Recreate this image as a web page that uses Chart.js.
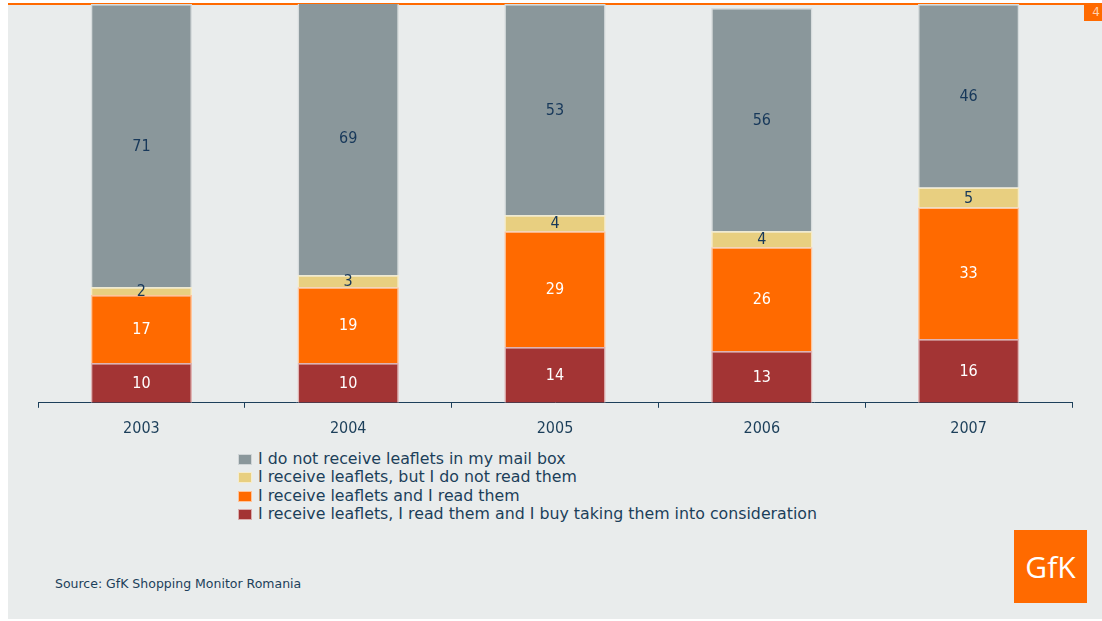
<!DOCTYPE html>
<html lang="en">
<head>
    <meta charset="UTF-8">
    <title>Leaflets - GfK Shopping Monitor Romania</title>
    <script src="https://cdn.jsdelivr.net/npm/chart.js"></script>
    <style>
        body { margin: 0; background: #fff; width: 1102px; height: 621px; overflow: hidden; position: relative; font-family: "DejaVu Sans", sans-serif; color: #1c3f5a; }
        #panel { position: absolute; left: 8px; top: 4px; width: 1094px; height: 615px; background: #e9ecec; }
        #topline { position: absolute; left: 8px; top: 3px; width: 1094px; height: 2px; background: #ff6a00; }
        #pageNo { position: absolute; left: 1084px; top: 4px; width: 18px; height: 17px; background: #ff6a00; color: #ffd2b0; font-size: 12px; text-align: right; line-height: 16px; padding-right: 2px; box-sizing: border-box; }
        #chartBox { position: absolute; left: 8px; top: 4px; width: 1094px; height: 445px; }
        #legend { position: absolute; left: 238px; top: 450px; font-size: 15.8px; line-height: 18.4px; }
        #legend div { white-space: nowrap; }
        #legend span.box { display: inline-block; width: 14px; height: 11px; margin-right: 6px; vertical-align: -1px; box-sizing: border-box; border: 1px solid rgba(255,255,255,0.6); }
        #source { position: absolute; left: 55px; top: 576px; font-size: 12.5px; }
        #logo { position: absolute; left: 1014px; top: 530px; width: 73px; height: 73px; background: #ff6a00; color: #fff; font-family: "Open Sans", sans-serif; font-size: 30px; text-align: center; line-height: 73px; }
    </style>
</head>
<body>
    <div id="panel"></div>
    <div id="topline"></div>
    <div id="pageNo">4</div>
    <div id="chartBox"><canvas id="leafletChart"></canvas></div>
    <div id="legend"></div>
    <div id="source">Source: GfK Shopping Monitor Romania</div>
    <div id="logo">GfK</div>

    <script>
        const years = ['2003', '2004', '2005', '2006', '2007'];
        // stacked from bottom to top
        const buyValues = [10, 10, 14, 13, 16];
        const readValues = [17, 19, 29, 26, 33];
        const notReadValues = [2, 3, 4, 4, 5];
        const noLeafletValues = [71, 69, 53, 56, 46];

        const seriesNames = [
            'I do not receive leaflets in my mail box',
            'I receive leaflets, but I do not read them',
            'I receive leaflets and I read them',
            'I receive leaflets, I read them and I buy taking them into consideration'
        ];
        const seriesColors = ['#8a979b', '#e8cf80', '#ff6a00', '#a33434'];
        const borderColors = ['#d7dcdd', '#f7ebc4', '#ffc59c', '#e0b4b4'];
        const labelColors = ['#17385a', '#17385a', '#ffffff', '#ffffff'];

        // legend (top to bottom like the original)
        const legend = document.getElementById('legend');
        seriesNames.forEach((name, i) => {
            const row = document.createElement('div');
            row.innerHTML = `<span class="box" style="background:${seriesColors[i]}"></span>${name}`;
            legend.appendChild(row);
        });

        // draws the value inside each segment
        const segmentLabels = {
            id: 'segmentLabels',
            afterDatasetsDraw(chart) {
                const ctx = chart.ctx;
                ctx.save();
                ctx.font = '16px "DejaVu Sans Condensed", "DejaVu Sans", sans-serif';
                ctx.textAlign = 'center';
                ctx.textBaseline = 'middle';
                chart.data.datasets.forEach((ds, di) => {
                    const meta = chart.getDatasetMeta(di);
                    meta.data.forEach((bar, i) => {
                        const p = bar.getProps(['x', 'y', 'base'], true);
                        ctx.fillStyle = ds.labelColor;
                        ctx.fillText(ds.data[i], p.x, (p.y + p.base) / 2 + 1);
                    });
                });
                ctx.restore();
            }
        };

        const datasets = [buyValues, readValues, notReadValues, noLeafletValues].map((values, k) => {
            const i = 3 - k;
            return {
                label: seriesNames[i],
                data: values,
                backgroundColor: seriesColors[i],
                borderColor: borderColors[i],
                borderWidth: 1.5,
                labelColor: labelColors[i],
                categoryPercentage: 1,
                barPercentage: 0.49
            };
        });

        new Chart(document.getElementById('leafletChart'), {
            type: 'bar',
            data: { labels: years, datasets: datasets },
            options: {
                responsive: true,
                maintainAspectRatio: false,
                animation: false,
                layout: { padding: { left: 30, right: 30, top: 0, bottom: 0 } },
                plugins: { legend: { display: false }, tooltip: { enabled: false } },
                scales: {
                    x: {
                        stacked: true,
                        grid: { offset: true, drawOnChartArea: false, color: '#1c3f5a', tickLength: 5, lineWidth: 1 },
                        border: { color: '#1c3f5a', width: 1 },
                        ticks: { color: '#1c3f5a', font: { family: '"DejaVu Sans Condensed", "DejaVu Sans", sans-serif', size: 16 }, padding: 11 }
                    },
                    y: {
                        stacked: true,
                        display: false,
                        min: 0,
                        max: 100
                    }
                }
            },
            plugins: [segmentLabels]
        });
    </script>
</body>
</html>
